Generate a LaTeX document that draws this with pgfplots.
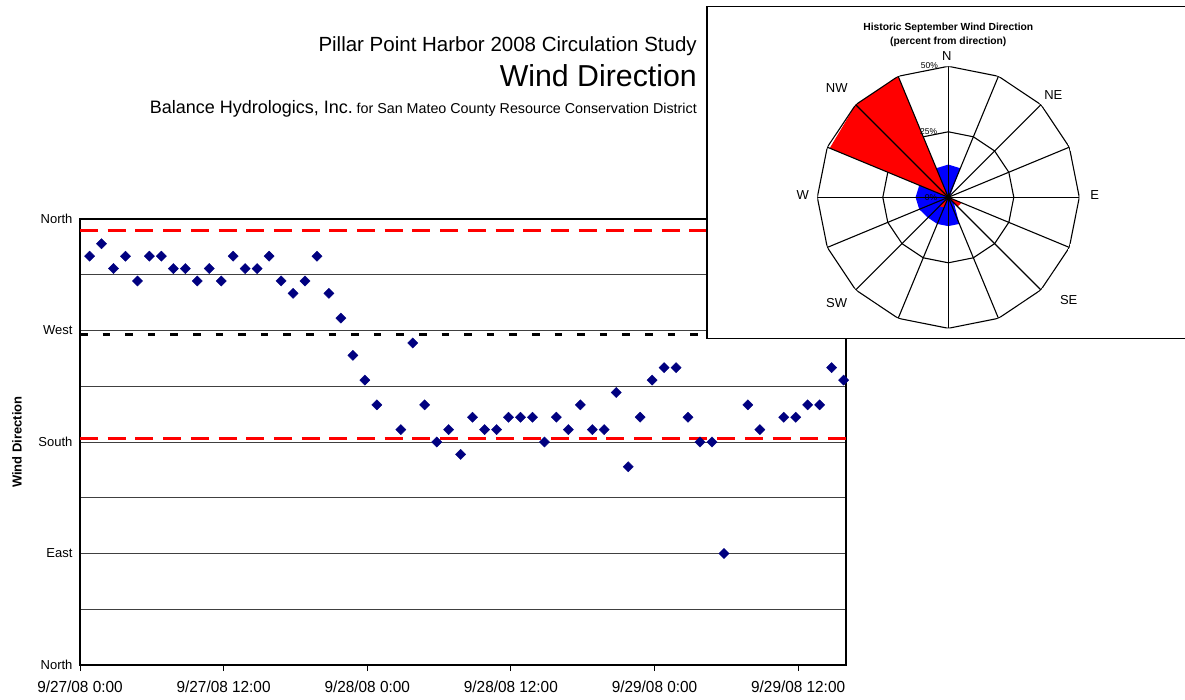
\documentclass[border=0pt]{standalone}
\usepackage{fontspec}
\setmainfont{Liberation Sans}
\usepackage{pgfplots}
\pgfplotsset{compat=1.18}
\usepgfplotslibrary{polar}
\definecolor{navymark}{HTML}{000080}
\definecolor{exred}{HTML}{FF0000}
\definecolor{exblue}{HTML}{0000FF}
\newcommand{\fs}[1]{\fontsize{#1}{#1}\selectfont}
\newcommand{\xl}[1]{\scalebox{0.96}[1]{#1}}
\begin{document}
\begin{tikzpicture}
\useasboundingbox (0pt,0pt) rectangle (1185pt,-700pt);
% ---------------- main chart ----------------
\begin{axis}[
  at={(80pt,-665pt)}, anchor=south west,
  scale only axis, width=766pt, height=446pt,
  xmin=0, xmax=64, ymin=0, ymax=360,
  xtick={0,12,24,36,48,60},
  xticklabels={\xl{9/27/08 0:00},\xl{9/27/08 12:00},\xl{9/28/08 0:00},\xl{9/28/08 12:00},\xl{9/29/08 0:00},\xl{9/29/08 12:00}},
  xticklabel style={font=\fs{16}, yshift=-6pt},
  xtick pos=left, xtick align=outside, major tick length=6pt,
  x tick style={black, line width=1pt},
  ytick={0,45,90,135,180,225,270,315,360},
  yticklabels={North,,East,,South,,West,,North},
  yticklabel style={font=\fs{13}, xshift=-4pt},
  ytick pos=left, y tick style={draw=none},
  ymajorgrids, grid style={black!75, line width=0.9pt},
  axis line style={black, line width=1.2pt},
  ylabel={Wind Direction},
  every axis y label/.style={at={(axis description cs:-0.0822,0.5)}, rotate=90, anchor=center, font=\fs{13}\bfseries},
]
\addplot[exred, line width=2.6pt, dash pattern=on 18pt off 9.7pt] coordinates {(0,350.6) (64,350.6)};
\addplot[exred, line width=2.6pt, dash pattern=on 18pt off 9.7pt] coordinates {(0,183) (64,183)};
\addplot[black, line width=3.2pt, dash pattern=on 7.6pt off 15pt] coordinates {(0,267) (64,267)};
\addplot[only marks, mark=square*, mark size=3.6pt, mark options={rotate=45, fill=navymark, draw=navymark}] table[row sep=\\] {
h dir\\
0.8 330\\ 1.8 340\\ 2.8 320\\ 3.8 330\\ 4.8 310\\ 5.8 330\\ 6.8 330\\ 7.8 320\\
8.8 320\\ 9.8 310\\ 10.8 320\\ 11.8 310\\ 12.8 330\\ 13.8 320\\ 14.8 320\\ 15.8 330\\
16.8 310\\ 17.8 300\\ 18.8 310\\ 19.8 330\\ 20.8 300\\ 21.8 280\\ 22.8 250\\ 23.8 230\\
24.8 210\\ 26.8 190\\ 27.8 260\\ 28.8 210\\ 29.8 180\\ 30.8 190\\ 31.8 170\\ 32.8 200\\
33.8 190\\ 34.8 190\\ 35.8 200\\ 36.8 200\\ 37.8 200\\ 38.8 180\\ 39.8 200\\ 40.8 190\\
41.8 210\\ 42.8 190\\ 43.8 190\\ 44.8 220\\ 45.8 160\\ 46.8 200\\ 47.8 230\\ 48.8 240\\
49.8 240\\ 50.8 200\\ 51.8 180\\ 52.8 180\\ 53.8 90\\ 55.8 210\\ 56.8 190\\ 58.8 200\\
59.8 200\\ 60.8 210\\ 61.8 210\\ 62.8 240\\ 63.8 230\\
};
\end{axis}
% ---------------- titles ----------------
\node[anchor=base east, inner sep=0pt, font=\fs{20.5}] at (697pt,-51.7pt) {Pillar Point Harbor 2008 Circulation Study};
\node[anchor=base east, inner sep=0pt, font=\fs{30.3}] at (697pt,-86.7pt) {Wind Direction};
\node[anchor=base east, inner sep=0pt] at (697pt,-114pt) {{\fs{18}Balance Hydrologics, Inc.} {\fs{14.3}for San Mateo County Resource Conservation District}};
% ---------------- inset wind rose ----------------
\draw[black, line width=1.8pt, fill=white] (706.8pt,-6.5pt) rectangle (1186pt,-338.5pt);
\node[anchor=base, inner sep=0pt, font=\fs{10.3}\bfseries] at (948.3pt,-30.7pt) {Historic September Wind Direction};
\node[anchor=base, inner sep=0pt, font=\fs{10.3}\bfseries] at (948.3pt,-44.5pt) {(percent from direction)};
\begin{polaraxis}[
  at={(948.3pt,-197.3pt)}, anchor=center,
  scale only axis, width=262pt, height=262pt,
  xmin=0, xmax=360, ymin=0, ymax=50,
  enlargelimits=false,
  hide axis, xtick=\empty, ytick=\empty,
]
% 25% ring
\addplot[black, line width=1.1pt] table[row sep=\\] {
a r\\ 90 25\\ 67.5 25\\ 45 25\\ 22.5 25\\ 0 25\\ 337.5 25\\ 315 25\\ 292.5 25\\
270 25\\ 247.5 25\\ 225 25\\ 202.5 25\\ 180 25\\ 157.5 25\\ 135 25\\ 112.5 25\\ 90 25\\
};
% blue series
\addplot[draw=none, fill=exblue] table[row sep=\\] {
a r\\ 90 12.5\\ 67.5 12\\ 45 1\\ 22.5 0\\ 0 0\\ 337.5 0\\ 315 3\\ 292.5 11\\
270 11\\ 247.5 11\\ 225 11\\ 202.5 12\\ 180 12.5\\ 157.5 12\\ 135 12\\ 112.5 12\\
};
% red series
\addplot[draw=none, fill=exred] table[row sep=\\] {
a r\\ 90 0\\ 67.5 0\\ 45 0\\ 22.5 0\\ 0 0\\ 337.5 5.5\\ 315 5\\ 292.5 0\\
270 0\\ 247.5 4\\ 225 5\\ 202.5 0\\ 180 0\\ 157.5 49\\ 135 50\\ 112.5 50\\
};
% 50% ring
\addplot[black, line width=1.1pt] table[row sep=\\] {
a r\\ 90 50\\ 67.5 50\\ 45 50\\ 22.5 50\\ 0 50\\ 337.5 50\\ 315 50\\ 292.5 50\\
270 50\\ 247.5 50\\ 225 50\\ 202.5 50\\ 180 50\\ 157.5 50\\ 135 50\\ 112.5 50\\ 90 50\\
};
% spokes
\addplot[black, line width=1.1pt] coordinates {(90,50) (270,50)};
\addplot[black, line width=1.1pt] coordinates {(67.5,50) (247.5,50)};
\addplot[black, line width=1.1pt] coordinates {(45,50) (225,50)};
\addplot[black, line width=1.1pt] coordinates {(22.5,50) (202.5,50)};
\addplot[black, line width=1.1pt] coordinates {(0,50) (180,50)};
\addplot[black, line width=1.1pt] coordinates {(337.5,50) (157.5,50)};
\addplot[black, line width=1.1pt] coordinates {(315,50) (135,50)};
\addplot[black, line width=1.1pt] coordinates {(292.5,50) (112.5,50)};
\end{polaraxis}
% compass and percent labels
\node[font=\fs{13}, inner sep=0pt] at (946.7pt,-56pt) {N};
\node[font=\fs{13}, inner sep=0pt] at (1053.3pt,-95pt) {NE};
\node[font=\fs{13}, inner sep=0pt] at (1094.7pt,-195pt) {E};
\node[font=\fs{13}, inner sep=0pt] at (1068.7pt,-300pt) {SE};
\node[font=\fs{13}, inner sep=0pt] at (836.7pt,-302.7pt) {SW};
\node[font=\fs{13}, inner sep=0pt] at (802.7pt,-195pt) {W};
\node[font=\fs{13}, inner sep=0pt] at (836.7pt,-88.3pt) {NW};
\node[font=\fs{8.5}, inner sep=0pt] at (929.3pt,-65.7pt) {50\%};
\node[font=\fs{8.5}, inner sep=0pt] at (928.7pt,-131.7pt) {25\%};
\node[font=\fs{8.5}, inner sep=0pt] at (931pt,-197.7pt) {0\%};
\end{tikzpicture}
\end{document}
